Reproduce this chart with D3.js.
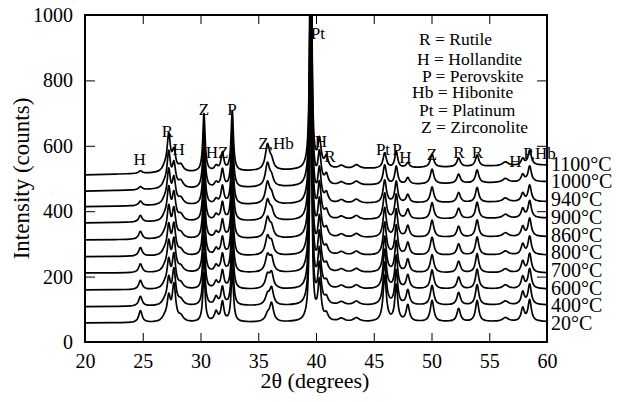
<!DOCTYPE html>
<html>
<head>
  <meta charset="utf-8">
  <script src="https://d3js.org/d3.v7.min.js"></script>
  <style>
    body { margin: 0; background: #fff; }
  </style>
</head>
<body>
  <div id="chart"></div>
  <script>
    // temperatures, bottom trace first
    const temps = ["20°C", "400°C", "600°C", "700°C", "800°C", "860°C", "900°C", "940°C", "1000°C", "1100°C"];
    // background level (counts) of each trace at 2θ = 20 and 2θ = 60, stacked offsets included
    const bgStart = [58, 108, 159, 211, 261, 312, 364, 414, 461, 511];
    const bgEnd = [62, 113, 162, 211, 266, 322, 379, 429, 490, 541];

    // peak positions (2θ), half widths (degrees), heights above background for each temperature
    const peakPos = [24.8, 26.9, 27.25, 27.7, 28.3, 30.3, 31.35, 31.9, 32.75, 35.8, 36.15, 39.55, 40.3, 40.9, 42.2, 43.5, 45.95, 46.95, 47.95, 50.05, 52.35, 53.95, 56.4, 57.9, 58.5];
    const peakHw = [0.18, 0.25, 0.17, 0.18, 0.25, 0.12, 0.18, 0.15, 0.12, 0.22, 0.2, 0.09, 0.17, 0.18, 0.3, 0.3, 0.17, 0.15, 0.17, 0.18, 0.18, 0.17, 0.3, 0.17, 0.17];
    const peakHeight = [
      [36, 30, 28, 27, 26, 24, 20, 14, 10, 8],
      [12, 12, 12, 12, 12, 12, 12, 12, 12, 12],
      [70, 75, 80, 85, 85, 90, 95, 100, 105, 110],
      [110, 105, 100, 95, 90, 85, 80, 75, 70, 60],
      [15, 15, 15, 15, 15, 15, 18, 18, 20, 20],
      [150, 160, 165, 170, 170, 175, 175, 175, 178, 178],
      [30, 25, 22, 20, 20, 18, 18, 15, 15, 15],
      [60, 55, 55, 55, 55, 55, 55, 55, 55, 55],
      [160, 165, 170, 175, 178, 180, 180, 182, 184, 184],
      [20, 30, 40, 50, 55, 60, 60, 65, 70, 77],
      [55, 50, 45, 40, 35, 30, 28, 25, 25, 25],
      [1000, 1000, 1000, 1000, 1000, 1000, 1000, 1000, 1000, 1000],
      [120, 120, 115, 115, 110, 110, 105, 100, 95, 85],
      [20, 20, 20, 22, 22, 25, 25, 28, 30, 35],
      [10, 10, 10, 10, 10, 10, 10, 10, 10, 10],
      [12, 12, 12, 12, 12, 12, 12, 12, 12, 12],
      [140, 130, 120, 110, 100, 90, 80, 70, 60, 47],
      [110, 105, 100, 95, 90, 85, 75, 65, 55, 50],
      [50, 45, 42, 40, 38, 35, 30, 25, 20, 15],
      [65, 60, 58, 55, 55, 52, 50, 48, 45, 40],
      [40, 38, 36, 35, 34, 33, 32, 30, 28, 27],
      [65, 62, 60, 58, 55, 52, 50, 45, 40, 35],
      [12, 12, 12, 12, 12, 12, 12, 12, 12, 12],
      [40, 38, 36, 34, 32, 30, 28, 25, 22, 20],
      [65, 62, 60, 58, 56, 55, 52, 50, 48, 45]
    ];

    // peak labels: text, 2θ, counts
    const peakLabels = [
      ["H", 24.72, 541], ["R", 27.14, 627], ["H", 28.1, 572], ["Z", 30.3, 694],
      ["HZ", 31.43, 563], ["P", 32.73, 694], ["Z,Hb", 36.54, 590], ["Pt", 40.17, 927],
      ["H", 40.43, 596], ["R", 41.21, 550], ["Pt", 45.8, 572], ["P", 47.01, 572],
      ["H", 47.75, 547], ["Z", 50.04, 557], ["R", 52.38, 563], ["R", 53.98, 563],
      ["H", 57.27, 535], ["P,Hb", 59.35, 560]
    ];
    const legendLines = ["R = Rutile", "H = Hollandite", "P = Perovskite", "Hb = Hibonite", "Pt = Platinum", "Z = Zirconolite"];

    const xTicks = [20, 25, 30, 35, 40, 45, 50, 55, 60];
    const yTicks = [0, 200, 400, 600, 800, 1000];

    const FONT = "'Liberation Serif', 'Times New Roman', Times, 'DejaVu Serif', serif";
    const W = 617, H = 402;
    const m = { left: 85, right: 70, top: 15, bottom: 60 };

    const svg = d3.select("#chart").append("svg").attr("width", W).attr("height", H);

    const x = d3.scaleLinear().domain([20, 60]).range([m.left, W - m.right]);
    const y = d3.scaleLinear().domain([0, 1000]).range([H - m.bottom, m.top]);

    svg.append("clipPath").attr("id", "plot")
      .append("rect").attr("x", m.left).attr("y", m.top)
      .attr("width", W - m.left - m.right).attr("height", H - m.top - m.bottom);

    // intensity of trace t at angle a
    function intensity(t, a) {
      let v = bgStart[t] + (bgEnd[t] - bgStart[t]) * (a - 20) / 40;
      peakPos.forEach((p, i) => {
        const d = (a - p) / peakHw[i];
        v += peakHeight[i][t] / (1 + d * d);
      });
      return v;
    }

    // sample each trace at the peak knots
    const knotSteps = [-12, -7, -4.5, -3, -2, -1.4, -1, -0.65, -0.35, -0.12, 0, 0.12, 0.35, 0.65, 1, 1.4, 2, 3, 4.5, 7, 12];
    let angles = [20, 60];
    peakPos.forEach((p, i) => knotSteps.forEach(k => angles.push(p + k * peakHw[i])));
    angles = angles.filter(a => a >= 20 && a <= 60).sort((a, b) => a - b);

    const line = d3.line()
      .x(d => x(d[0]))
      .y(d => y(d[1]))
      .curve(d3.curveMonotoneX);

    const traces = svg.append("g").attr("clip-path", "url(#plot)");
    temps.forEach((tName, t) => {
      traces.append("path")
        .datum(angles.map(a => [a, intensity(t, a)]))
        .attr("fill", "none")
        .attr("stroke", "#000")
        .attr("stroke-width", 1.7)
        .attr("stroke-linejoin", "round")
        .attr("d", line);
    });

    // axes, ticks inside on all four sides
    svg.append("g").attr("transform", `translate(0,${H - m.bottom})`)
      .call(d3.axisBottom(x).tickValues(xTicks).tickSize(-9).tickPadding(12).tickFormat(d3.format("d")));
    svg.append("g").attr("transform", `translate(0,${m.top})`)
      .call(d3.axisTop(x).tickValues(xTicks).tickSize(-9).tickFormat(""));
    svg.append("g").attr("transform", `translate(${m.left},0)`)
      .call(d3.axisLeft(y).tickValues(yTicks).tickSize(-10).tickPadding(12).tickFormat(d3.format("d")));
    svg.append("g").attr("transform", `translate(${W - m.right},0)`)
      .call(d3.axisRight(y).tickValues(yTicks).tickSize(-10).tickFormat(""));

    svg.selectAll(".domain").remove();
    svg.selectAll(".tick line").attr("stroke", "#000").attr("stroke-width", 1);
    svg.selectAll(".tick text").attr("font-size", 20).attr("fill", "#000");

    svg.append("rect")
      .attr("x", m.left).attr("y", m.top)
      .attr("width", W - m.left - m.right).attr("height", H - m.top - m.bottom)
      .attr("fill", "none").attr("stroke", "#000").attr("stroke-width", 2);

    // axis titles
    svg.append("text")
      .attr("x", (m.left + W - m.right) / 2 - 1).attr("y", 388)
      .attr("text-anchor", "middle").attr("font-size", 22)
      .text("2θ (degrees)");
    svg.append("text")
      .attr("transform", `translate(29,${(m.top + H - m.bottom) / 2}) rotate(-90)`)
      .attr("text-anchor", "middle").attr("font-size", 23)
      .text("Intensity (counts)");

    // peak labels
    svg.append("g").selectAll("text").data(peakLabels).join("text")
      .attr("x", d => x(d[1])).attr("y", d => y(d[2]))
      .attr("text-anchor", "middle").attr("font-size", 17)
      .text(d => d[0]);

    // phase legend
    const legendX = [419, 417, 422, 412, 419, 421];
    const legendY = [45, 65, 82, 98, 116, 133];
    svg.append("g").selectAll("text").data(legendLines).join("text")
      .attr("x", (d, i) => legendX[i]).attr("y", (d, i) => legendY[i])
      .attr("font-size", 17.5)
      .text(d => d);

    // temperature labels at right
    svg.append("g").selectAll("text").data(temps).join("text")
      .attr("x", W - m.right + 4)
      .attr("y", (d, i) => 330 - i * 17.7)
      .attr("font-size", 20)
      .text(d => d);

    svg.selectAll("text").attr("font-family", FONT).style("font-family", FONT);
  </script>
</body>
</html>
